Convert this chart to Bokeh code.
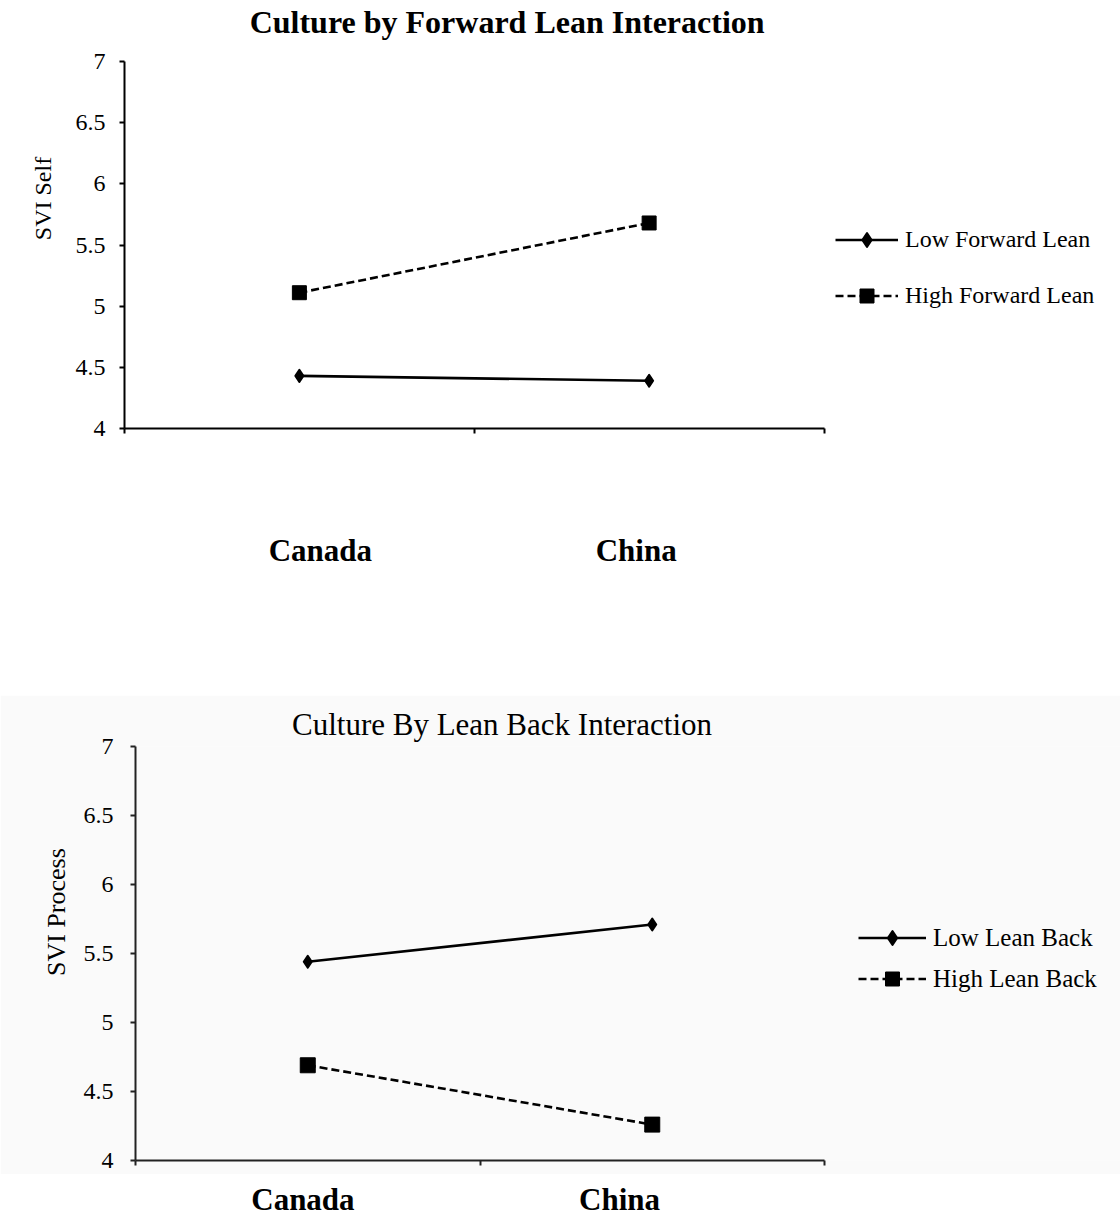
from bokeh.plotting import figure
from bokeh.models import (ColumnDataSource, Range1d, LinearAxis, FixedTicker,
                          Legend, LegendItem)
from bokeh.layouts import column
from bokeh.embed import file_html
from bokeh.resources import INLINE
from bokeh.core.properties import value

# ---------------- data ----------------
categories = ["Canada", "China"]
cat_pos = [0.5, 1.5]            # category centres on a 0..2 axis
x_ticks = [0, 1, 2]
y_ticks = [4, 4.5, 5, 5.5, 6, 6.5, 7]
y_tick_labels = ["4", "4.5", "5", "5.5", "6", "6.5", "7"]

top_title = "Culture by Forward Lean Interaction"
top_ylabel = "SVI Self"
top_low_label = "Low Forward Lean"
top_high_label = "High Forward Lean"
top_low = [4.43, 4.39]
top_high = [5.11, 5.68]

bot_title = "Culture By Lean Back Interaction"
bot_ylabel = "SVI Process"
bot_low_label = "Low Lean Back"
bot_high_label = "High Lean Back"
bot_low = [5.44, 5.71]
bot_high = [4.69, 4.26]

# ---------------- layout / style ----------------
SERIF = "Liberation Serif"
GRAY = "#fafafa"
W = 1120


def text_axis(pos, text, standoff, size, style, orientation="horizontal"):
    """An axis with no line/ticks that carries a single text at a chosen spot."""
    return LinearAxis(ticker=FixedTicker(ticks=[pos]),
                      major_label_overrides={pos: text},
                      axis_line_color=None, major_tick_line_color=None,
                      minor_tick_line_color=None, major_tick_in=0, major_tick_out=0,
                      minor_tick_in=0, minor_tick_out=0,
                      major_label_standoff=standoff,
                      major_label_orientation=orientation,
                      major_label_text_font=SERIF, major_label_text_font_size=size,
                      major_label_text_font_style=style, major_label_text_color="black")


def style_axes(p, tick_size, tick_standoff, axis_color):
    p.xgrid.visible = False
    p.ygrid.visible = False
    p.outline_line_color = None
    ya = p.yaxis[0]
    ya.ticker = FixedTicker(ticks=y_ticks)
    ya.major_label_overrides = dict(zip(y_ticks, y_tick_labels))
    ya.minor_tick_line_color = None
    ya.major_tick_in = 0
    ya.major_tick_out = 5
    ya.axis_line_width = 2
    ya.major_tick_line_width = 2
    ya.axis_line_color = axis_color
    ya.major_tick_line_color = axis_color
    ya.major_label_text_font = SERIF
    ya.major_label_text_font_size = tick_size
    ya.major_label_text_color = "black"
    ya.major_label_standoff = tick_standoff

    xa = p.xaxis[0]
    xa.ticker = FixedTicker(ticks=x_ticks)
    xa.bounds = (x_ticks[0], x_ticks[-1])
    xa.major_label_text_color = None
    xa.major_label_text_font_size = "1px"
    xa.major_label_standoff = 0
    xa.minor_tick_line_color = None
    xa.major_tick_in = 0
    xa.major_tick_out = 5
    xa.axis_line_width = 2
    xa.major_tick_line_width = 2
    xa.axis_line_color = axis_color
    xa.major_tick_line_color = axis_color


def add_series(p, low, high, low_label, high_label, sq_size, legend_loc, legend_spacing,
               glyph_w, standoff, label_size):
    src = ColumnDataSource(dict(x=cat_pos, cat=categories, low=low, high=high))
    r1 = p.line("x", "low", source=src, line_color="black", line_width=2.6)
    s1 = p.scatter("x", "low", source=src, marker="diamond", size=12,
                   fill_color="black", line_color="black", line_width=2,
                   line_join="round")
    r2 = p.line("x", "high", source=src, line_color="black", line_width=2.6,
                line_dash="8 4")
    s2 = p.scatter("x", "high", source=src, marker="square", size=sq_size,
                   fill_color="black", line_color="black")
    legend = Legend(items=[LegendItem(label=low_label, renderers=[r1, s1]),
                           LegendItem(label=high_label, renderers=[r2, s2])],
                    location=legend_loc, padding=0, margin=0, spacing=legend_spacing,
                    glyph_width=glyph_w, glyph_height=35, label_height=35,
                    label_standoff=standoff, border_line_color=None,
                    background_fill_alpha=0,
                    label_text_font=SERIF, label_text_font_size=label_size,
                    label_text_color="black")
    p.add_layout(legend)


# The plotted 0..2 axis ends well before the right edge; the frame continues to
# the right so that the legend can sit inside it (axis line is bounded to 0..2).
TOP_LEFT, TOP_AXIS_END = 124, 823.5
BOT_LEFT, BOT_AXIS_END = 135, 824
top_x_end = 2 * (W - TOP_LEFT) / (TOP_AXIS_END - TOP_LEFT)
bot_x_end = 2 * (W - BOT_LEFT) / (BOT_AXIS_END - BOT_LEFT)

# ---------------- top chart ----------------
top = figure(width=W, height=695, x_range=Range1d(0, top_x_end), y_range=Range1d(4, 7),
             output_backend="svg", toolbar_location=None, frame_align=False,
             min_border_left=TOP_LEFT, min_border_right=0,
             min_border_top=60, min_border_bottom=267)
style_axes(top, "24px", 14, "black")
add_series(top, top_low, top_high, top_low_label, top_high_label, 14,
           (711, 115), 21, 63, 7, "24px")
top.add_layout(text_axis(1.094, top_title, 22, "32px", "bold"), "above")
top.add_layout(text_axis(5.88, top_ylabel, 16, "24px", "normal", "vertical"), "left")
top_label_x = [0.56, 1.463]
top.add_layout(LinearAxis(ticker=FixedTicker(ticks=top_label_x),
                          major_label_overrides=dict(zip(top_label_x, categories)),
                          axis_line_color=None, major_tick_line_color=None,
                          minor_tick_line_color=None, major_tick_out=0, major_tick_in=0,
                          major_label_standoff=99,
                          major_label_text_font=SERIF, major_label_text_font_size="31px",
                          major_label_text_font_style="bold",
                          major_label_text_color="black"), "below")

# ---------------- bottom chart ----------------
bot = figure(width=W, height=479, x_range=Range1d(0, bot_x_end), y_range=Range1d(4, 7),
             output_backend="svg", toolbar_location=None, frame_align=False,
             min_border_left=BOT_LEFT, min_border_right=0,
             min_border_top=51, min_border_bottom=14,
             background_fill_color=GRAY, border_fill_color=GRAY)
style_axes(bot, "24px", 17, "#222222")
add_series(bot, bot_low, bot_high, bot_low_label, bot_high_label, 15,
           (723, 164), 6, 68, 7, "25px")
bot.add_layout(text_axis(1.064, bot_title, 5, "31px", "normal"), "above")
bot.add_layout(text_axis(5.80, bot_ylabel, 9, "26px", "normal", "vertical"), "left")

# ---------------- bottom category labels strip ----------------
lab = figure(width=W, height=43, x_range=bot.x_range, y_range=Range1d(0, 43),
             output_backend="svg", toolbar_location=None, frame_align=False,
             x_axis_location=None, y_axis_location=None,
             min_border_left=BOT_LEFT, min_border_right=0,
             min_border_top=0, min_border_bottom=0)
lab.xgrid.visible = False
lab.ygrid.visible = False
lab.outline_line_color = None
bot_label_x = [0.486, 1.405]
lab_src = ColumnDataSource(dict(x=bot_label_x, y=[18, 18], text=categories))
lab.text("x", "y", text="text", source=lab_src, text_font=value(SERIF),
         text_font_size=value("31px"), text_font_style="bold", text_color="black",
         text_align="center", text_baseline="middle")

layout = column(top, bot, lab, spacing=0)
open("out.html", "w").write(file_html(layout, INLINE))
